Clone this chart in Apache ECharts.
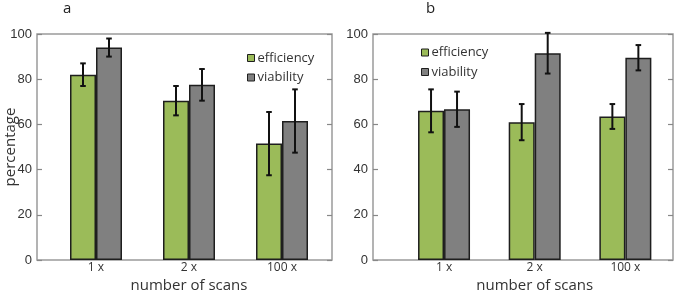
<!DOCTYPE html>
<html>
<head>
<meta charset="utf-8">
<script src="https://cdn.jsdelivr.net/npm/echarts@6/dist/echarts.min.js"></script>
<style>
html,body{margin:0;padding:0;background:#fff;}
#c{width:685px;height:294px;}
</style>
</head>
<body>
<div id="c"></div>
<script>
const categories = ['1 x', '2 x', '100 x'];
const yTicks = [0, 20, 40, 60, 80, 100];
const seriesNames = ['efficiency', 'viability'];
const panelTitles = ['a', 'b'];

const effA = [82, 70.5, 51.5];
const effErrA = [5, 6.5, 14];
const viaA = [94, 77.5, 61.5];
const viaErrA = [4, 7, 14];

const effB = [66, 61, 63.5];
const effErrB = [9.5, 8, 5.5];
const viaB = [66.7, 91.5, 89.5];
const viaErrB = [7.8, 9, 5.6];

const GREEN = '#9bbb59';
const GREY = '#808080';
const EDGE = '#1e1e1e';
const FRAME = '#9a9a9a';
const BAR_W = 26;

const chart = echarts.init(document.getElementById('c'));

const frames = [
  { left: 37, width: 295 },
  { left: 373, width: 300 }
];
const barGrids = [
  { left: 49.5, width: 279 },
  { left: 398.7, width: 272 }
];
const TOP = 34, H = 226;

const grid = [];
const xAxis = [];
const yAxis = [];
const series = [];

const yMin = yTicks[0], yMax = yTicks[yTicks.length - 1], yInt = yTicks[1] - yTicks[0];

function errSeries(name, values, errs, xi, yi, offsetSign) {
  return {
    type: 'custom',
    name: name + '_err',
    xAxisIndex: xi, yAxisIndex: yi,
    z: 10,
    clip: false,
    silent: true,
    data: values.map((v, i) => [i, v, errs[i]]),
    renderItem: function (params, api) {
      const c = api.value(0);
      const v = api.value(1);
      const e = api.value(2);
      const ptHi = api.coord([c, v + e]);
      const ptLo = api.coord([c, v - e]);
      const x = ptHi[0] + offsetSign * BAR_W / 2;
      const cap = 2.8;
      const st = { stroke: '#111', lineWidth: 2 };
      return {
        type: 'group',
        children: [
          { type: 'line', shape: { x1: x, y1: ptHi[1], x2: x, y2: ptLo[1] }, style: st },
          { type: 'line', shape: { x1: x - cap, y1: ptHi[1], x2: x + cap, y2: ptHi[1] }, style: st },
          { type: 'line', shape: { x1: x - cap, y1: ptLo[1], x2: x + cap, y2: ptLo[1] }, style: st }
        ]
      };
    }
  };
}

const panels = [
  { eff: effA, effErr: effErrA, via: viaA, viaErr: viaErrA },
  { eff: effB, effErr: effErrB, via: viaB, viaErr: viaErrB }
];

panels.forEach((p, k) => {
  const gFrame = grid.length;
  grid.push({ left: frames[k].left, width: frames[k].width, top: TOP, height: H, show: true, borderColor: FRAME, borderWidth: 1.5, backgroundColor: 'transparent', containLabel: false, outerBoundsMode: 'none' });
  const gBar = grid.length;
  grid.push({ left: barGrids[k].left, width: barGrids[k].width, top: TOP, height: H, containLabel: false, outerBoundsMode: 'none' });

  xAxis.push({ gridIndex: gFrame, type: 'value', show: false });
  yAxis.push({
    gridIndex: gFrame, type: 'value', min: yMin, max: yMax, interval: yInt, position: 'left',
    name: k === 0 ? 'percentage' : '', nameLocation: 'middle', nameGap: 19, nameMoveOverlap: false,
    nameTextStyle: { fontFamily: 'Open Sans', fontSize: 15, color: '#333' },
    axisLine: { show: false },
    axisTick: { show: true, inside: true, length: 5, lineStyle: { color: '#888', width: 1.2 } },
    axisLabel: { show: true, margin: 5, fontFamily: 'Liberation Sans', fontSize: 13, color: '#333' },
    splitLine: { show: false }
  });
  yAxis.push({
    gridIndex: gFrame, type: 'value', min: yMin, max: yMax, interval: yInt, position: 'right',
    axisLine: { show: false },
    axisTick: { show: true, inside: true, length: 5, lineStyle: { color: '#888', width: 1.2 } },
    axisLabel: { show: false },
    splitLine: { show: false }
  });

  const xBar = xAxis.length;
  xAxis.push({
    gridIndex: gBar, type: 'category', data: categories,
    name: 'number of scans', nameLocation: 'middle', nameGap: 18, nameMoveOverlap: false,
    nameTextStyle: { fontFamily: 'Open Sans', fontSize: 15, color: '#333' },
    axisLine: { show: false }, axisTick: { show: false },
    axisLabel: { margin: 2, fontFamily: 'Open Sans', fontSize: 12, color: '#333' }
  });
  const yBar = yAxis.length;
  yAxis.push({ gridIndex: gBar, type: 'value', min: yMin, max: yMax, interval: yInt, show: false, splitLine: { show: false } });

  series.push({
    type: 'bar', name: seriesNames[0], xAxisIndex: xBar, yAxisIndex: yBar,
    data: p.eff, barWidth: BAR_W, barGap: '0%',
    itemStyle: { color: GREEN, borderColor: EDGE, borderWidth: 1.5 }
  });
  series.push({
    type: 'bar', name: seriesNames[1], xAxisIndex: xBar, yAxisIndex: yBar,
    data: p.via, barWidth: BAR_W, barGap: '0%',
    itemStyle: { color: GREY, borderColor: EDGE, borderWidth: 1.5 }
  });
  series.push(errSeries(seriesNames[0], p.eff, p.effErr, xBar, yBar, -1));
  series.push(errSeries(seriesNames[1], p.via, p.viaErr, xBar, yBar, 1));
});

const legendCommon = {
  orient: 'vertical', icon: 'rect', itemWidth: 7, itemHeight: 7, itemGap: 6.5,
  data: seriesNames,
  itemStyle: { borderColor: EDGE, borderWidth: 1 },
  textStyle: { fontFamily: 'Open Sans', fontSize: 13, color: '#333', padding: [0, 0, 0, -2] },
  selectedMode: false
};

chart.setOption({
  animation: false,
  title: [
    { text: panelTitles[0], left: 58, top: -4, textStyle: { fontFamily: 'Open Sans', fontSize: 15, fontWeight: 'normal', color: '#222' } },
    { text: panelTitles[1], left: 421, top: -4, textStyle: { fontFamily: 'Open Sans', fontSize: 15, fontWeight: 'normal', color: '#222' } }
  ],
  legend: [
    Object.assign({ left: 242, top: 46.5 }, legendCommon),
    Object.assign({ left: 416, top: 41 }, legendCommon)
  ],
  grid: grid,
  xAxis: xAxis,
  yAxis: yAxis,
  series: series
});
</script>
</body>
</html>
